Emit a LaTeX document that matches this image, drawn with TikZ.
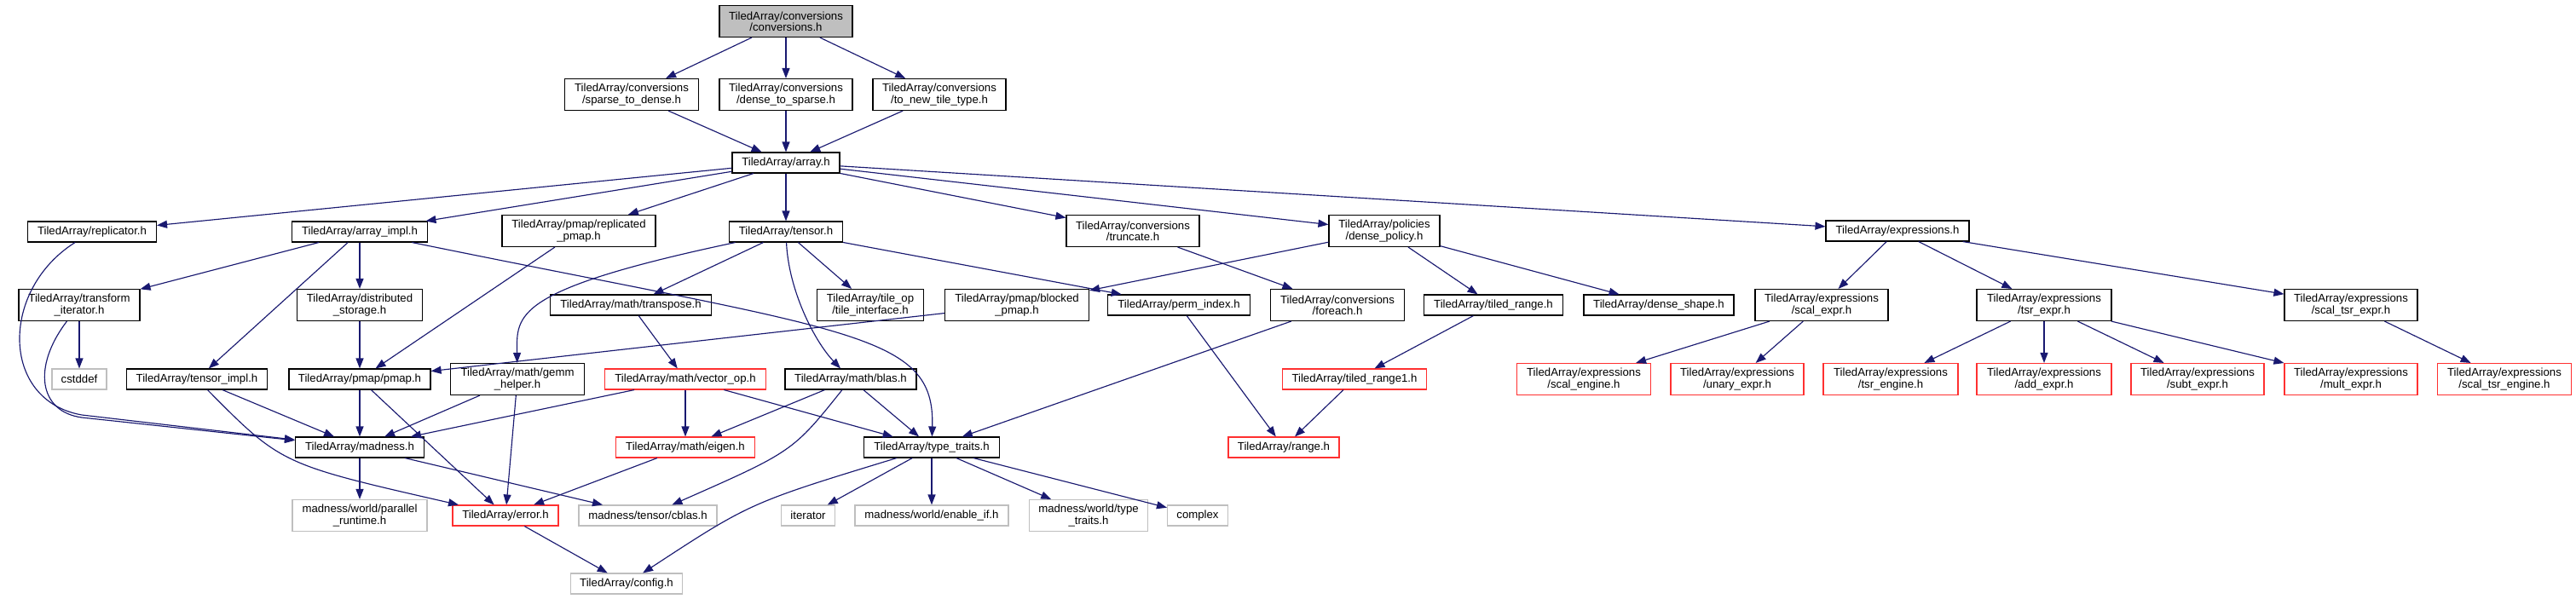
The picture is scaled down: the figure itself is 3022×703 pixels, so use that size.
\documentclass[tikz,border=0pt]{standalone}
\usepackage{fontspec}
\setmainfont{Liberation Sans}
\usetikzlibrary{arrows.meta}

\definecolor{depblue}{HTML}{191970}
\definecolor{truncred}{HTML}{FF3030}
\definecolor{sysgray}{HTML}{BFBFBF}

\begin{document}
\begin{tikzpicture}[x=1pt, y=-1pt, >={Triangle[length=12pt,width=9pt]}]

% --- Styles for the include graph ---
\tikzset{
    file/.style={draw=black, line width=1.1pt, fill=white, inner sep=1pt, align=center,
                 minimum height=24pt, font=\fontsize{13.2}{13.4}\selectfont},
    twoline/.style={minimum height=37pt},
    wd/.style={minimum width=#1pt},
    topfile/.style={file, fill=sysgray},
    trunc/.style={file, draw=truncred},
    sys/.style={file, draw=sysgray},
    dep/.style={->, depblue, line width=1.15pt}
}

    \useasboundingbox (0,0) rectangle (3022,703);

    % Start file and conversions
    \node[topfile, twoline, wd=156] (conversions) at (922,25) {TiledArray/conversions\\/conversions.h};
    \node[file, twoline, wd=157] (sparsetodense) at (741,111) {TiledArray/conversions\\/sparse\_to\_dense.h};
    \node[file, twoline, wd=156] (densetosparse) at (922,111) {TiledArray/conversions\\/dense\_to\_sparse.h};
    \node[file, twoline, wd=156] (tonewtiletype) at (1102,111) {TiledArray/conversions\\/to\_new\_tile\_type.h};
    \node[file, wd=126] (array) at (922,191) {TiledArray/array.h};

    % Rij 1
    \node[file, wd=151] (replicator) at (108,272) {TiledArray/replicator.h};
    \node[file, wd=159] (arrayimpl) at (422,272) {TiledArray/array\_impl.h};
    \node[file, twoline, wd=180] (replicatedpmap) at (679,271) {TiledArray/pmap/replicated\\\_pmap.h};
    \node[file, wd=133] (tensor) at (922,272) {TiledArray/tensor.h};
    \node[file, twoline, wd=156] (truncate) at (1329,271) {TiledArray/conversions\\/truncate.h};
    \node[file, twoline, wd=130] (densepolicy) at (1624,271) {TiledArray/policies\\/dense\_policy.h};
    \node[file, wd=168] (expressions) at (2226,271) {TiledArray/expressions.h};

    % Rij 2
    \node[file, twoline, wd=142] (transformiterator) at (93,358) {TiledArray/transform\\\_iterator.h};
    \node[file, twoline, wd=147] (distributedstorage) at (422,358) {TiledArray/distributed\\\_storage.h};
    \node[file, wd=189] (transpose) at (740,358) {TiledArray/math/transpose.h};
    \node[file, twoline, wd=125] (tileinterface) at (1021,358) {TiledArray/tile\_op\\/tile\_interface.h};
    \node[file, twoline, wd=169] (blockedpmap) at (1193,358) {TiledArray/pmap/blocked\\\_pmap.h};
    \node[file, wd=167] (permindex) at (1383,358) {TiledArray/perm\_index.h};
    \node[file, twoline, wd=157] (foreach) at (1569,358) {TiledArray/conversions\\/foreach.h};
    \node[file, wd=163] (tiledrange) at (1752,358) {TiledArray/tiled\_range.h};
    \node[file, wd=176] (denseshape) at (1946,358) {TiledArray/dense\_shape.h};
    \node[file, twoline, wd=156] (scalexpr) at (2137,358) {TiledArray/expressions\\/scal\_expr.h};
    \node[file, twoline, wd=158] (tsrexpr) at (2398,358) {TiledArray/expressions\\/tsr\_expr.h};
    \node[file, twoline, wd=156] (scaltsrexpr) at (2758,358) {TiledArray/expressions\\/scal\_tsr\_expr.h};

    % Rij 3
    \node[sys, wd=64] (cstddef) at (93,445) {cstddef};
    \node[file, wd=165] (tensorimpl) at (231,445) {TiledArray/tensor\_impl.h};
    \node[file, wd=166] (pmap) at (422,445) {TiledArray/pmap/pmap.h};
    \node[file, twoline, wd=157] (gemmhelper) at (607,445) {TiledArray/math/gemm\\\_helper.h};
    \node[trunc, wd=189] (vectorop) at (804,445) {TiledArray/math/vector\_op.h};
    \node[file, wd=154] (blas) at (998,445) {TiledArray/math/blas.h};
    \node[trunc, wd=169] (tiledrangeone) at (1589,445) {TiledArray/tiled\_range1.h};
    \node[trunc, twoline, wd=157] (scalengine) at (1858,445) {TiledArray/expressions\\/scal\_engine.h};
    \node[trunc, twoline, wd=156] (unaryexpr) at (2038,445) {TiledArray/expressions\\/unary\_expr.h};
    \node[trunc, twoline, wd=158] (tsrengine) at (2218,445) {TiledArray/expressions\\/tsr\_engine.h};
    \node[trunc, twoline, wd=158] (addexpr) at (2398,445) {TiledArray/expressions\\/add\_expr.h};
    \node[trunc, twoline, wd=156] (subtexpr) at (2578,445) {TiledArray/expressions\\/subt\_expr.h};
    \node[trunc, twoline, wd=156] (multexpr) at (2758,445) {TiledArray/expressions\\/mult\_expr.h};
    \node[trunc, twoline, wd=157] (scaltsrengine) at (2938,445) {TiledArray/expressions\\/scal\_tsr\_engine.h};

    % Rij 4
    \node[file, wd=151] (madness) at (422,525) {TiledArray/madness.h};
    \node[trunc, wd=163] (eigen) at (804,525) {TiledArray/math/eigen.h};
    \node[file, wd=159] (typetraits) at (1093,525) {TiledArray/type\_traits.h};
    \node[trunc, wd=130] (range) at (1506,525) {TiledArray/range.h};

    % Rij 5 en 6
    \node[sys, twoline, wd=158] (parallelruntime) at (422,605) {madness/world/parallel\\\_runtime.h};
    \node[trunc, wd=124] (error) at (593,605) {TiledArray/error.h};
    \node[sys, wd=162] (cblas) at (760,605) {madness/tensor/cblas.h};
    \node[sys, wd=63] (iterator) at (948,605) {iterator};
    \node[sys, wd=180] (enableif) at (1093,605) {madness/world/enable\_if.h};
    \node[sys, twoline, wd=139] (worldtypetraits) at (1277,605) {madness/world/type\\\_traits.h};
    \node[sys, wd=71] (complex) at (1405,605) {complex};
    \node[sys, wd=131] (config) at (735,685) {TiledArray/config.h};

    % Afhankelijkheden
    \draw[dep] (conversions) -- (sparsetodense);
    \draw[dep] (conversions) -- (densetosparse);
    \draw[dep] (conversions) -- (tonewtiletype);
    \draw[dep] (sparsetodense) -- (array);
    \draw[dep] (densetosparse) -- (array);
    \draw[dep] (tonewtiletype) -- (array);

    \draw[dep] (array) -- (replicator);
    \draw[dep] (array) -- (arrayimpl);
    \draw[dep] (array) -- (replicatedpmap);
    \draw[dep] (array) -- (tensor);
    \draw[dep] (array) -- (truncate);
    \draw[dep] (array) -- (densepolicy);
    \draw[dep] (array) -- (expressions);

    \draw[dep] (replicator) .. controls (0,340) and (0,470) .. (96,487) -- (madness);
    \draw[dep] (arrayimpl) -- (transformiterator);
    \draw[dep] (arrayimpl) -- (tensorimpl);
    \draw[dep] (arrayimpl) -- (distributedstorage);
    \draw[dep] (arrayimpl) .. controls (1000,390) and (1097,390) .. (typetraits);
    \draw[dep] (replicatedpmap) -- (pmap);

    \draw[dep] (tensor) .. controls (600,340) and (606,370) .. (gemmhelper);
    \draw[dep] (tensor) -- (transpose);
    \draw[dep] (tensor) .. controls (925,340) and (955,400) .. (blas);
    \draw[dep] (tensor) -- (tileinterface);
    \draw[dep] (tensor) -- (permindex);

    \draw[dep] (truncate) -- (foreach);
    \draw[dep] (densepolicy) -- (blockedpmap);
    \draw[dep] (densepolicy) -- (tiledrange);
    \draw[dep] (densepolicy) -- (denseshape);

    \draw[dep] (expressions) -- (scalexpr);
    \draw[dep] (expressions) -- (tsrexpr);
    \draw[dep] (expressions) -- (scaltsrexpr);
    \draw[dep] (scalexpr) -- (scalengine);
    \draw[dep] (scalexpr) -- (unaryexpr);
    \draw[dep] (tsrexpr) -- (tsrengine);
    \draw[dep] (tsrexpr) -- (addexpr);
    \draw[dep] (tsrexpr) -- (subtexpr);
    \draw[dep] (tsrexpr) -- (multexpr);
    \draw[dep] (scaltsrexpr) -- (scaltsrengine);

    \draw[dep] (transformiterator) -- (cstddef);
    \draw[dep] (transformiterator) .. controls (38,430) and (45,483) .. (96,490) -- (madness);
    \draw[dep] (distributedstorage) -- (pmap);
    \draw[dep] (transpose) -- (vectorop);
    \draw[dep] (blockedpmap) -- (pmap);
    \draw[dep] (permindex) -- (range);
    \draw[dep] (foreach) -- (typetraits);
    \draw[dep] (tiledrange) -- (tiledrangeone);
    \draw[dep] (tiledrangeone) -- (range);

    \draw[dep] (tensorimpl) -- (madness);
    \draw[dep] (tensorimpl) .. controls (330,545) .. (error);
    \draw[dep] (pmap) -- (madness);
    \draw[dep] (pmap) -- (error);
    \draw[dep] (gemmhelper) -- (madness);
    \draw[dep] (gemmhelper) -- (error);
    \draw[dep] (vectorop) -- (madness);
    \draw[dep] (vectorop) -- (eigen);
    \draw[dep] (vectorop) -- (typetraits);
    \draw[dep] (blas) -- (eigen);
    \draw[dep] (blas) -- (typetraits);
    \draw[dep] (blas) .. controls (930,530) .. (cblas);

    \draw[dep] (madness) -- (parallelruntime);
    \draw[dep] (madness) -- (cblas);
    \draw[dep] (eigen) -- (error);
    \draw[dep] (error) -- (config);
    \draw[dep] (typetraits) .. controls (880,590) .. (config);
    \draw[dep] (typetraits) -- (iterator);
    \draw[dep] (typetraits) -- (enableif);
    \draw[dep] (typetraits) -- (worldtypetraits);
    \draw[dep] (typetraits) -- (complex);

\end{tikzpicture}
\end{document}
